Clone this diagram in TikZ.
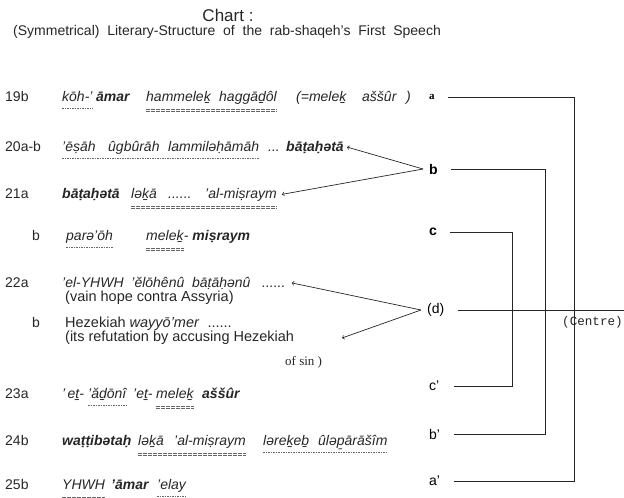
\documentclass[tikz,border=0pt]{standalone}
\usepackage{fontspec}
\setmainfont{Liberation Serif}
\setsansfont{Liberation Sans}
\setmonofont{Liberation Mono}
\usetikzlibrary{positioning}

% underlines hung below a run of named words
\newcommand{\dotunder}[2]{\draw[dotline] ([yshift=-7pt]#1.base west) -- ([yshift=-7pt]#2.base east);}
\newcommand{\dblunder}[2]{\draw[dbl] ([yshift=-8pt]#1.base west) -- ([yshift=-8pt]#2.base east)
    ([yshift=-10.6pt]#1.base west) -- ([yshift=-10.6pt]#2.base east);}

\begin{document}
\begin{tikzpicture}[x=1pt, y=-1pt,
        rowlabel/.style={anchor=base west, inner sep=0pt, text=black!85, font=\sffamily\fontsize{14}{16}\selectfont},
        translit/.style={anchor=base west, inner sep=0pt, text=black!85, font=\sffamily\itshape\fontsize{14}{16}\selectfont},
        gloss/.style={anchor=base west, inner sep=0pt, text=black!85, font=\sffamily\fontsize{14.5}{16}\selectfont},
        key/.style={anchor=west, inner sep=0pt, text=black, font=\sffamily\bfseries\fontsize{14}{16}\selectfont},
        dbl/.style={line width=0.6pt, dash pattern=on 4pt off 1pt, black!60},
        dotline/.style={line width=0.6pt, dash pattern=on 1.5pt off 1pt, black!60},
        bracket/.style={line width=0.9pt, black!85},
        pointer/.style={->, line width=0.7pt, black!85}
    ]
    \useasboundingbox (0,0) rectangle (624,498);

    % Title
    \node[font=\sffamily\fontsize{17}{19}\selectfont, text=black!85] (title) at (228,15) {Chart :};
    \node[anchor=west, inner sep=0pt, font=\sffamily\fontsize{14}{16}\selectfont, text=black!85] (subtitle) at (13,32)
        {(Symmetrical)\ \ Literary-Structure\ \ of\ \ the\ \ rab-shaqeh's\ \ First\ \ Speech};

    % 19b
    \node[rowlabel] (l19) at (5,101) {19b};
    \node[translit] (w19a) at (62,101) {kōh-'};
    \node[translit] (w19b) at (96,101) {\textbf{āmar}};
    \node[translit] (w19c) at (146,101) {hammeleḵ};
    \node[translit] (w19d) at (219,101) {haggāḏôl};
    \node[translit] (w19e) at (296,101) {(=meleḵ};
    \node[translit] (w19f) at (362,101) {aššûr};
    \node[translit] (w19g) at (406,101) {)};
    % 20a-b
    \node[rowlabel] (l20) at (5,151) {20a-b};
    \node[translit] (w20a) at (62,151) {'ēṣāh};
    \node[translit] (w20b) at (108,151) {ûgbûrāh};
    \node[translit] (w20c) at (168,151) {lammiləḥāmāh};
    \node[translit] (w20d) at (268,151) {...};
    \node[translit] (w20e) at (286,151) {\textbf{bāṭaḥətā}};
    % 21a
    \node[rowlabel] (l21) at (5,198) {21a};
    \node[translit] (w21a) at (62,198) {\textbf{bāṭaḥətā}};
    \node[translit] (w21b) at (131,198) {ləḵā};
    \node[translit] (w21c) at (168,198) {......};
    \node[translit] (w21d) at (205,198) {'al-miṣraym};
    % 21b
    \node[rowlabel] (l21x) at (32,240) {b};
    \node[translit] (w21e) at (66,240) {parə'ōh};
    \node[translit] (w21f) at (146,240) {meleḵ};
    \node[translit] (w21g) at (w21f.base east) {-\ \textbf{miṣraym}};
    % 22a and 22b
    \node[rowlabel] (l22) at (5,287) {22a};
    \node[translit] (t22) at (62,287) {'el-YHWH\ \ 'ĕlōhênû\ \ bāṭāḥənû\ \ \ ......};
    \node[gloss] (g22) at (65,301) {(vain hope contra Assyria)};
    \node[rowlabel] (l22x) at (32,327) {b};
    \node[gloss] (t22x) at (65,327) {Hezekiah \textit{wayyō'mer}\ \ ......};
    \node[gloss] (g22x) at (65,341) {(its refutation by accusing Hezekiah};
    \node[anchor=base west, inner sep=0pt, text=black!85, font=\rmfamily\fontsize{13}{15}\selectfont] (sin) at (285,365) {of sin )};
    % 23a
    \node[rowlabel] (l23) at (5,398) {23a};
    \node[translit] (w23a) at (62,398) {'\,eṯ-};
    \node[translit] (w23b) at (88,398) {'ăḏōnî};
    \node[translit] (w23c) at (133,398) {'eṯ-};
    \node[translit] (w23d) at (156,398) {meleḵ};
    \node[translit] (w23e) at (202,398) {\textbf{aššûr}};
    % 24b
    \node[rowlabel] (l24) at (5,445) {24b};
    \node[translit] (w24a) at (62,445) {\textbf{waṭṭibətaḥ}};
    \node[translit] (w24b) at (138,445) {ləḵā};
    \node[translit] (w24c) at (174,445) {'al-miṣraym};
    \node[translit] (w24d) at (263,445) {ləreḵeḇ};
    \node[translit] (w24e) at (318,445) {ûləp̱ārāšîm};
    % 25b
    \node[rowlabel] (l25) at (5,489) {25b};
    \node[translit] (w25a) at (62,489) {YHWH};
    \node[translit] (w25b) at (111,489) {\textbf{'āmar}};
    \node[translit] (w25c) at (157,489) {'elay};

    % Underlines
    \dotunder{w19a}{w19a}
    \dblunder{w19c}{w19d}
    \dotunder{w20a}{w20c}
    \dblunder{w21b}{w21d}
    \dotunder{w21e}{w21e}
    \dblunder{w21f}{w21f}
    \dotunder{w23b}{w23b}
    \dblunder{w23d}{w23d}
    \dblunder{w24b}{w24c}
    \dotunder{w24d}{w24e}
    \dblunder{w25a}{w25a}
    \dotunder{w25c}{w25c}

    % Keys of the symmetry
    \node[key, font=\rmfamily\bfseries\fontsize{11}{13}\selectfont] (ka) at (429,97) {a};
    \node[key] (kb) at (429,169) {b};
    \node[key] (kc) at (429,232) {c};
    \node[key, font=\sffamily\fontsize{14}{16}\selectfont] (kd) at (427,310) {(d)};
    \node[key, font=\sffamily\fontsize{14}{16}\selectfont] (kcc) at (429,386) {c'};
    \node[key, font=\sffamily\fontsize{14}{16}\selectfont] (kbb) at (429,434) {b'};
    \node[key, font=\sffamily\fontsize{14}{16}\selectfont] (kaa) at (429,481) {a'};

    % Brackets
    \coordinate (colA) at (561,0);
    \coordinate (colB) at (532,0);
    \coordinate (colC) at (499,0);
    \draw[bracket] ([xshift=13pt]ka.east) -- ([xshift=13pt]ka.east -| colA) |- ([xshift=14pt]kaa.east);
    \draw[bracket] ([xshift=13pt]kb.east) -- ([xshift=13pt]kb.east -| colB) |- ([xshift=14pt]kbb.east);
    \draw[bracket] ([xshift=13pt]kc.east) -- ([xshift=13pt]kc.east -| colC) |- ([xshift=14pt]kcc.east);
    \coordinate (edge) at (624,310);
    \draw[bracket] ([xshift=13pt]kd.east) -- (edge);
    \node[anchor=west, inner sep=0pt, font=\ttfamily\fontsize{12.6}{15}\selectfont, text=black!85] (centre) at (562,322) {(Centre)};

    % Pointers
    \coordinate (refut) at (342,338);
    \draw[pointer] ([xshift=-6pt]kb.west) -- ([xshift=3pt]w20e.east);
    \draw[pointer] ([xshift=-6pt]kb.west) -- ([xshift=5pt]w21d.east);
    \draw[pointer] ([xshift=-6pt]kd.west) -- ([xshift=6pt]t22.east);
    \draw[pointer] ([xshift=-6pt]kd.west) -- (refut);

\end{tikzpicture}
\end{document}
